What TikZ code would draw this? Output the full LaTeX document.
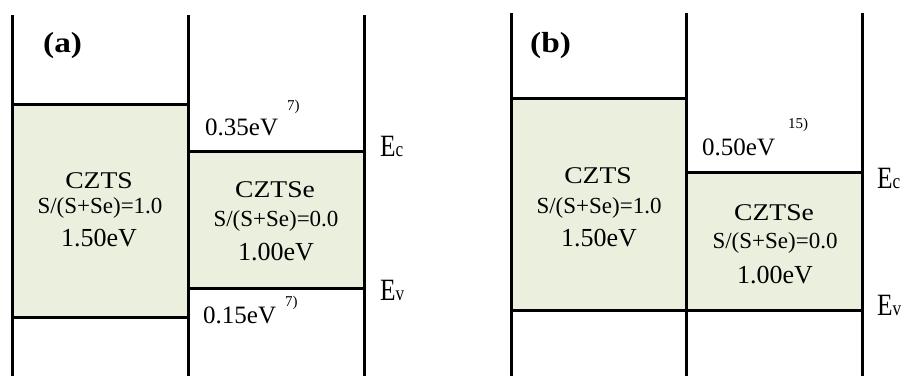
\documentclass[tikz,border=0pt]{standalone}
\usepackage{fontspec}
\setmainfont{Liberation Serif}
\newfontfamily\widefont{Liberation Serif}[FakeStretch=1.15]
\newfontfamily\narrowfont{Liberation Serif}[FakeStretch=0.82]
\usepackage{tikz}
\definecolor{bandfill}{RGB}{235,239,222}

% level labels E_c, E_v
\newcommand{\lvl}[1]{{\narrowfont\fontsize{31}{31}\selectfont E\fontsize{21}{21}\selectfont #1}}

\begin{document}
\begin{tikzpicture}[x=1pt,y=-1pt]
    \tikzstyle{band} = [draw, line width=3pt, fill=bandfill]
    \tikzstyle{wall} = [line width=3pt]
    \tikzstyle{matname} = [inner sep=0pt, anchor=base, font=\widefont\fontsize{24}{24}\selectfont]
    \tikzstyle{ratio} = [inner sep=0pt, anchor=base, font=\fontsize{23}{23}\selectfont]
    \tikzstyle{gap} = [inner sep=0pt, anchor=base, font=\fontsize{26}{26}\selectfont]
    \tikzstyle{offs} = [inner sep=0pt, anchor=base west, font=\fontsize{25}{25}\selectfont]
    \tikzstyle{refnum} = [inner sep=0pt, anchor=base west, font=\fontsize{15}{15}\selectfont]
    \tikzstyle{panel} = [inner sep=0pt, anchor=base west, font=\widefont\fontsize{29}{29}\selectfont\bfseries]

    \useasboundingbox (0,0) rectangle (909,376);

    % Panel (a): band boxes
    \draw[band] (12,104) rectangle (188,317);
    \draw[band] (188,151) rectangle (364,288);
    \foreach \x in {12,188,364} \draw[wall] (\x,15) -- (\x,376);

    \node[panel] (lbla) at (43,52) {(a)};
    \node[matname] (sa1) at (99,188) {CZTS};
    \node[ratio] (sa2) at (100,213) {S/(S+Se)=1.0};
    \node[gap] (sa3) at (99,246) {1.50eV};
    \node[matname] (ea1) at (275,197) {CZTSe};
    \node[ratio] (ea2) at (276,226) {S/(S+Se)=0.0};
    \node[gap] (ea3) at (276,260) {1.00eV};

    % Band offsets
    \node[offs] (cba) at (205,135) {0.35eV};
    \node[refnum] (cbra) at (287,110) {7)};
    \node[offs] (vba) at (203,323) {0.15eV};
    \node[refnum] (vbra) at (285,306) {7)};
    \node[inner sep=0pt, anchor=base west] (eca) at (380,156) {\lvl{c}};
    \node[inner sep=0pt, anchor=base west] (eva) at (380,300) {\lvl{v}};

    % Panel (b): band boxes
    \draw[band] (511,98) rectangle (686,310);
    \draw[band] (686,172) rectangle (862,310);
    \foreach \x in {511,686,862} \draw[wall] (\x,13) -- (\x,376);

    \node[panel] (lblb) at (530,52) {(b)};
    \node[matname] (sb1) at (598,183) {CZTS};
    \node[ratio] (sb2) at (599,213) {S/(S+Se)=1.0};
    \node[gap] (sb3) at (599,246) {1.50eV};
    \node[matname] (eb1) at (774,220) {CZTSe};
    \node[ratio] (eb2) at (775,248) {S/(S+Se)=0.0};
    \node[gap] (eb3) at (775,283) {1.00eV};

    \node[offs] (cbb) at (702,155) {0.50eV};
    \node[refnum] (cbrb) at (788,128) {15)};
    \node[inner sep=0pt, anchor=base west] (ecb) at (877,188) {\lvl{c}};
    \node[inner sep=0pt, anchor=base west] (evb) at (877,315) {\lvl{v}};
\end{tikzpicture}
\end{document}
